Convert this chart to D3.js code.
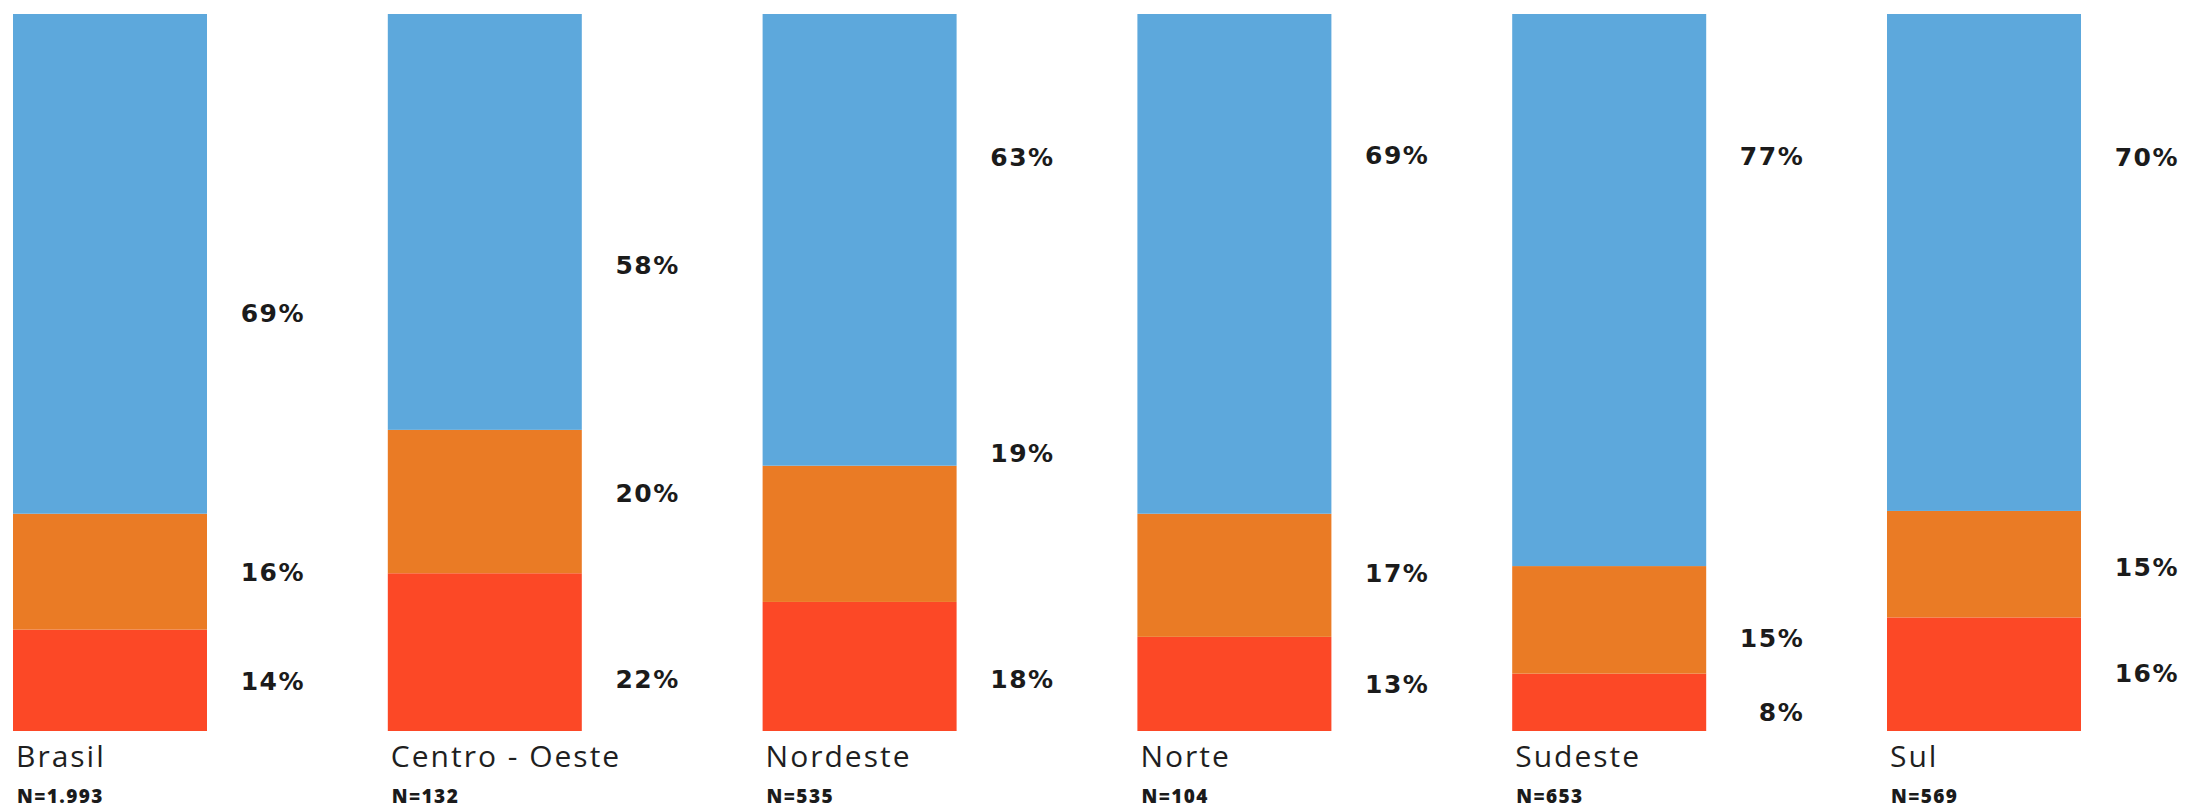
<!DOCTYPE html>
<html>
<head>
<meta charset="utf-8">
<script src="https://cdn.jsdelivr.net/npm/d3@7"></script>
<style>
  html, body { margin: 0; padding: 0; background: #ffffff; }
  svg { display: block; }
</style>
</head>
<body>
<svg id="chart" width="2190" height="809"></svg>
<script>
// Regions and their sample sizes
const regions = ["Brasil", "Centro - Oeste", "Nordeste", "Norte", "Sudeste", "Sul"];
const sampleSizes = ["N=1.993", "N=132", "N=535", "N=104", "N=653", "N=569"];

// Shares per region (percent), stacked bottom to top: red, orange, blue
const redValues    = [14, 22, 18, 13, 8, 16];
const orangeValues = [16, 20, 19, 17, 15, 15];
const blueValues   = [69, 58, 63, 69, 77, 70];

const seriesKeys   = ["red", "orange", "blue"];
const seriesColors = { red: "#FC4826", orange: "#EA7B25", blue: "#5DA8DC" };

// Vertical anchor of each value label, in percent of bar height from the bottom
const redLabelAt    = [7.0, 7.3, 7.3, 6.6, 2.6, 8.1];
const orangeLabelAt = [22.2, 33.2, 38.8, 22.0, 13.0, 22.9];
const blueLabelAt   = [58.3, 65.0, 80.1, 80.3, 80.2, 80.1];

const table = regions.map((r, i) => ({
  region: r,
  n: sampleSizes[i],
  red: redValues[i],
  orange: orangeValues[i],
  blue: blueValues[i],
  labelAt: { red: redLabelAt[i], orange: orangeLabelAt[i], blue: blueLabelAt[i] }
}));

const svg = d3.select("#chart");

const barTop = 14, barBottom = 731;

const x = d3.scaleBand()
  .domain(regions)
  .range([13, 2081])
  .paddingInner(0.4824)
  .paddingOuter(0)
  .align(0);

// Each column is normalised to its own total
const y = d3.scaleLinear().domain([0, 1]).range([barBottom, barTop]);
const yLabel = d3.scaleLinear().domain([0, 100]).range([barBottom, barTop]);

const stacked = d3.stack()
  .keys(seriesKeys)
  .offset(d3.stackOffsetExpand)(table);

// Bars
svg.append("g")
  .selectAll("g")
  .data(stacked)
  .join("g")
    .attr("fill", s => seriesColors[s.key])
  .selectAll("rect")
  .data(s => s.map(d => ({ d, key: s.key })))
  .join("rect")
    .attr("x", p => x(p.d.data.region))
    .attr("y", p => y(p.d[1]))
    .attr("width", x.bandwidth())
    .attr("height", p => y(p.d[0]) - y(p.d[1]));

// Value labels to the right of each column
const labelGroup = svg.append("g")
  .attr("font-family", "'DejaVu Sans', sans-serif")
  .attr("font-weight", "bold")
  .attr("font-size", 25)
  .attr("letter-spacing", "1.5px")
  .attr("fill", "#1b1b1b")
  .attr("text-anchor", "end");

table.forEach(row => {
  seriesKeys.forEach(k => {
    labelGroup.append("text")
      .attr("x", x(row.region) + x.bandwidth() + 98)
      .attr("y", yLabel(row.labelAt[k]))
      .attr("dy", "0.36em")
      .text(row[k] + "%");
  });
});

// Region names under each column
svg.append("g")
  .selectAll("text")
  .data(table)
  .join("text")
    .attr("x", d => x(d.region) + 3)
    .attr("y", 767)
    .attr("font-family", "'Open Sans', sans-serif")
    .attr("font-size", 30)
    .attr("letter-spacing", "2px")
    .attr("fill", "#1f1f1f")
    .text(d => d.region);

// Sample sizes
svg.append("g")
  .selectAll("text")
  .data(table)
  .join("text")
    .attr("x", d => x(d.region) + 4)
    .attr("y", 803)
    .attr("font-family", "'Open Sans', sans-serif")
    .attr("font-weight", 800)
    .attr("font-size", 19)
    .attr("letter-spacing", "1.4px")
    .attr("fill", "#1b1b1b")
    .text(d => d.n);
</script>
</body>
</html>
